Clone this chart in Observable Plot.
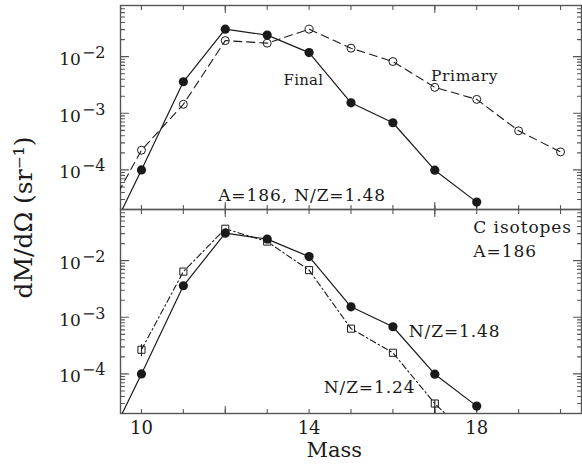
<!DOCTYPE html>
<html><head><meta charset="utf-8">
<script src="https://cdn.jsdelivr.net/npm/d3@7"></script>
<script src="https://cdn.jsdelivr.net/npm/@observablehq/plot@0.6"></script>
<style>
body{margin:0;background:#fff;}
#chart svg{display:block;}
</style></head><body><div id="chart"></div>
<script>
// Mass numbers and dM/dΩ values (sr^-1)
const massFinal   = [9, 10, 11, 12, 13, 14, 15, 16, 17, 18];
const finalVals   = [3.0e-6, 1.0e-4, 3.6e-3, 3.05e-2, 2.4e-2, 1.18e-2, 1.53e-3, 6.8e-4, 9.9e-5, 2.7e-5];
const massPrimary = [9, 10, 11, 12, 13, 14, 15, 16, 17, 18, 19, 20];
const primaryVals = [1.0e-5, 2.23e-4, 1.44e-3, 1.92e-2, 1.73e-2, 3.05e-2, 1.41e-2, 8.2e-3, 2.87e-3, 1.76e-3, 4.9e-4, 2.08e-4];
const massNZ124   = [10, 11, 12, 13, 14, 15, 16, 17, 18];
const nz124Vals   = [2.67e-4, 6.4e-3, 3.66e-2, 2.17e-2, 6.8e-3, 6.3e-4, 2.36e-4, 3.0e-5, 5.7e-6];
// error bars
const errMassNZ124 = [10, 17];
const errLoNZ124   = [2.0e-4, 2.0e-5];
const errHiNZ124   = [3.3e-4, 3.4e-5];
const errMassFinal = [10, 18];
const errLoFinal   = [8.3e-5, 2.1e-5];
const errHiFinal   = [1.1e-4, 3.1e-5];
// ticks
const xTickLabels = [10, 14, 18];
const xMinorTicks = [10, 11, 12, 13, 14, 15, 16, 17, 18, 19, 20];
const xLongTicks  = [12, 17];
const yTickLabels = [1e-4, 1e-3, 1e-2];
const yTickText   = ["10\u207B\u2074", "10\u207B\u00B3", "10\u207B\u00B2"];
const yTickBase   = "10";
const yTickExp    = ["\u22124", "\u22123", "\u22122"];
const yMinorTicks = [2e-5,3e-5,4e-5,5e-5,6e-5,7e-5,8e-5,9e-5,2e-4,3e-4,4e-4,5e-4,6e-4,7e-4,8e-4,9e-4,2e-3,3e-3,4e-3,5e-3,6e-3,7e-3,8e-3,9e-3,2e-2,3e-2,4e-2,5e-2,6e-2,7e-2,8e-2];
// annotations
const annPanel = ["top", "top", "top", "bottom", "bottom", "bottom", "bottom"];
const annText  = ["Final", "Primary", "A=186, N/Z=1.48", "C isotopes", "A=186", "N/Z=1.48", "N/Z=1.24"];
const annMass  = [13.39, 16.91, 11.83, 17.92, 17.92, 16.38, 14.35];
const annVal   = [3.9e-3, 4.55e-3, 3.5e-5, 3.8e-2, 1.43e-2, 5.5e-4, 5.8e-5];
const annSize  = [15, 15.5, 17, 17, 17, 17, 17];
const annSpacing = [0.2, 0.6, 0.9, 0.9, 0.9, 0.9, 0.9];
const yLabel = "dM/dΩ (sr\u207B\u00B9)";
const yLabelParts = ["dM/dΩ (sr", "\u22121", ")"];
const xLabel = "Mass";
const xLabelMass = 14.6;

const rows = (panel, xs, ys) => xs.map((m, i) => ({panel, mass: m, value: ys[i]}));
const finalTop = rows("top", massFinal, finalVals);
const finalBot = rows("bottom", massFinal, finalVals);
const primary = rows("top", massPrimary, primaryVals);
const nz124 = rows("bottom", massNZ124, nz124Vals);
const errRows = [
  ...errMassNZ124.map((m, i) => ({panel: "bottom", mass: m, lo: errLoNZ124[i], hi: errHiNZ124[i]})),
  ...errMassFinal.map((m, i) => ({panel: "top", mass: m, lo: errLoFinal[i], hi: errHiFinal[i]})),
  ...errMassFinal.map((m, i) => ({panel: "bottom", mass: m, lo: errLoFinal[i], hi: errHiFinal[i]}))
];
const ann = annText.map((t, i) => ({panel: annPanel[i], text: t, mass: annMass[i], value: annVal[i], size: annSize[i]}));
const dotsOnly = d => d.mass >= 10;

const spike = {draw(ctx, l) { ctx.moveTo(0, 0); ctx.lineTo(0, -l); }};
const tickOpts = {shape: spike, anchor: "start", stroke: "#555", strokeWidth: 1.1};
const ink = "#1a1a1a";

const chart = Plot.plot({
  width: 582, height: 466,
  marginLeft: 120, marginRight: 1, marginTop: 5, marginBottom: 53,
  style: {fontFamily: "'DejaVu Serif', serif", fontSize: "17px", color: ink, background: "#fff"},
  x: {domain: [9.5, 20.5]},
  y: {type: "log", domain: [2e-5, 0.08]},
  fy: {domain: ["top", "bottom"], padding: 0, axis: null, label: null},
  marks: [
    // ticks
    Plot.vector(xMinorTicks, {x: d => d, frameAnchor: "bottom", rotate: 0, length: 4, ...tickOpts}),
    Plot.vector(xMinorTicks, {x: d => d, frameAnchor: "top", rotate: 180, length: 4, ...tickOpts}),
    Plot.vector(xLongTicks, {x: d => d, frameAnchor: "bottom", rotate: 0, length: 7, ...tickOpts}),
    Plot.vector(xLongTicks, {x: d => d, frameAnchor: "top", rotate: 180, length: 7, ...tickOpts}),
    Plot.vector(yMinorTicks, {y: d => d, frameAnchor: "left", rotate: 90, length: 4, ...tickOpts}),
    Plot.vector(yTickLabels, {y: d => d, frameAnchor: "left", rotate: 90, length: 8, ...tickOpts}),
    Plot.vector(yMinorTicks, {y: d => d, frameAnchor: "right", rotate: -90, length: 4, ...tickOpts}),
    Plot.vector(yTickLabels, {y: d => d, frameAnchor: "right", rotate: -90, length: 8, ...tickOpts}),
    Plot.frame({stroke: "#555", strokeWidth: 1.4}),
    // axes labels
    Plot.axisY({anchor: "left", ticks: yTickLabels, tickSize: 0, tickPadding: 15, label: null, dy: 3,
      tickFormat: d => yTickText[yTickLabels.indexOf(d)], fontSize: 17}),
    Plot.axisX({anchor: "bottom", ticks: xTickLabels, tickSize: 0, tickPadding: 8, label: null, fontSize: 18}),
    // series
    Plot.ruleX(errRows, {x: "mass", y1: "lo", y2: "hi", fy: "panel", stroke: ink, strokeWidth: 1, clip: true}),
    Plot.line(primary, {x: "mass", y: "value", fy: "panel", stroke: ink, strokeWidth: 1.1, strokeDasharray: "8,5", clip: true}),
    Plot.line(nz124, {x: "mass", y: "value", fy: "panel", stroke: ink, strokeWidth: 1.1, strokeDasharray: "6,3,1.5,3", clip: true}),
    Plot.line(finalTop, {x: "mass", y: "value", fy: "panel", stroke: ink, strokeWidth: 1.2, clip: true}),
    Plot.line(finalBot, {x: "mass", y: "value", fy: "panel", stroke: ink, strokeWidth: 1.2, clip: true}),
    Plot.dot(primary.filter(dotsOnly), {x: "mass", y: "value", fy: "panel", r: 4, stroke: ink, strokeWidth: 1, fill: "none"}),
    Plot.dot(nz124.filter(d => d.value > 2e-5), {x: "mass", y: "value", fy: "panel", symbol: "square", r: 4, stroke: ink, strokeWidth: 1, fill: "none"}),
    Plot.dot(finalTop.filter(dotsOnly), {x: "mass", y: "value", fy: "panel", r: 4.6, fill: ink, stroke: "none"}),
    Plot.dot(finalBot.filter(dotsOnly), {x: "mass", y: "value", fy: "panel", r: 4.6, fill: ink, stroke: "none"}),
    // annotations
    Plot.text(ann, {x: "mass", y: "value", fy: "panel", text: "text", fontSize: d => d.size, textAnchor: "start", lineAnchor: "middle", fill: ink, ariaLabel: "annotation"}),
    Plot.text([{panel: "top"}], {fy: "panel", frameAnchor: "bottom-left", text: () => yLabel, rotate: -90, dx: -97, dy: 8, fontSize: 25, textAnchor: "middle", lineAnchor: "middle", fill: ink, ariaLabel: "y-label"}),
    Plot.text([{panel: "bottom"}], {fy: "panel", x: () => xLabelMass, frameAnchor: "bottom", text: () => xLabel, dy: 37, fontSize: 21, textAnchor: "middle", lineAnchor: "middle", fill: ink})
  ]
});

// Superscripts as real tspans
const NS = "http://www.w3.org/2000/svg";
chart.querySelectorAll('g[aria-label="y-axis tick label"] text').forEach(t => {
  const i = yTickText.indexOf(t.textContent);
  if (i < 0) return;
  t.textContent = yTickBase;
  const s = document.createElementNS(NS, "tspan");
  s.setAttribute("dy", "-7");
  s.setAttribute("dx", "1");
  s.setAttribute("font-size", "16");
  s.textContent = yTickExp[i];
  t.appendChild(s);
});
chart.querySelectorAll('g[aria-label="y-label"] text').forEach(t => {
  t.textContent = yLabelParts[0];
  const s = document.createElementNS(NS, "tspan");
  s.setAttribute("dy", "-10");
  s.setAttribute("dx", "1");
  s.setAttribute("font-size", "18");
  s.textContent = yLabelParts[1];
  const c = document.createElementNS(NS, "tspan");
  c.setAttribute("dy", "10");
  c.setAttribute("dx", "2");
  c.textContent = yLabelParts[2];
  t.appendChild(s);
  t.appendChild(c);
});
chart.querySelectorAll('text').forEach(t => {
  const i = annText.indexOf(t.textContent);
  if (i >= 0) t.setAttribute("letter-spacing", annSpacing[i]);
});
document.getElementById("chart").appendChild(chart);
</script></body></html>
